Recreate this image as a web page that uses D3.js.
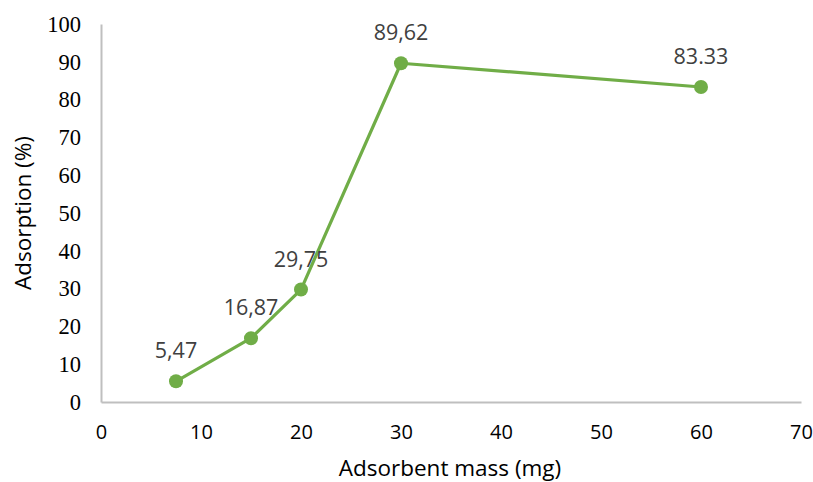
<!DOCTYPE html>
<html>
<head>
<meta charset="utf-8">
<script src="https://cdn.jsdelivr.net/npm/d3@7"></script>
<style>
  html, body { margin: 0; padding: 0; background: #fff; }
  svg { display: block; }
</style>
</head>
<body>
<svg id="chart" width="813" height="482"></svg>
<script>
// Adsorption vs. adsorbent mass
const massMg = [7.5, 15, 20, 30, 60];
const adsorption = [5.47, 16.87, 29.75, 89.62, 83.33];
const valueLabels = ["5,47", "16,87", "29,75", "89,62", "83.33"];
const xTicks = [0, 10, 20, 30, 40, 50, 60, 70];
const yTicks = [0, 10, 20, 30, 40, 50, 60, 70, 80, 90, 100];

const svg = d3.select("#chart");
const x = d3.scaleLinear().domain([0, 70]).range([101, 801]);
const y = d3.scaleLinear().domain([0, 100]).range([402, 24]);

const green = "#70AD47";
const axisGray = "#BFBFBF";
const sans = "'Open Sans', sans-serif";

// Y axis: line only, serif labels
const yAxis = d3.axisLeft(y).tickValues(yTicks).tickSize(0).tickPadding(20);
const gy = svg.append("g").attr("transform", `translate(${x(0)},0)`).call(yAxis);
gy.select(".domain").attr("stroke", axisGray).attr("stroke-width", 2);
gy.selectAll("text")
  .attr("font-family", "'Liberation Serif', 'Times New Roman', serif")
  .attr("font-size", 22.5)
  .attr("fill", "#000");

// X axis
const xAxis = d3.axisBottom(x).tickValues(xTicks).tickSize(0).tickPadding(23);
const gx = svg.append("g").attr("transform", `translate(0,${y(0)})`).call(xAxis);
gx.select(".domain").attr("stroke", axisGray).attr("stroke-width", 2);
gx.selectAll("text")
  .attr("font-family", sans)
  .attr("font-size", 20)
  .attr("fill", "#000");

// Axis titles
svg.append("text")
  .attr("x", 450).attr("y", 476)
  .attr("text-anchor", "middle")
  .attr("font-family", sans)
  .attr("font-size", 22.5)
  .attr("fill", "#000")
  .text("Adsorbent mass (mg)");

svg.append("text")
  .attr("transform", `translate(31,${213}) rotate(-90)`)
  .attr("text-anchor", "middle")
  .attr("font-family", sans)
  .attr("font-size", 22.5)
  .attr("fill", "#000")
  .text("Adsorption (%)");

const pts = massMg.map((m, i) => ({ m, v: adsorption[i], label: valueLabels[i] }));

// Line
svg.append("path")
  .datum(pts)
  .attr("fill", "none")
  .attr("stroke", green)
  .attr("stroke-width", 3.2)
  .attr("stroke-linejoin", "round")
  .attr("d", d3.line().x(d => x(d.m)).y(d => y(d.v)));

// Markers
svg.selectAll("circle.pt")
  .data(pts)
  .join("circle")
  .attr("class", "pt")
  .attr("cx", d => x(d.m))
  .attr("cy", d => y(d.v))
  .attr("r", 7)
  .attr("fill", green);

// Value labels
svg.selectAll("text.val")
  .data(pts)
  .join("text")
  .attr("class", "val")
  .attr("x", d => x(d.m))
  .attr("y", d => y(d.v) - 23)
  .attr("text-anchor", "middle")
  .attr("font-family", sans)
  .attr("font-size", 21.5)
  .attr("fill", "#404040")
  .text(d => d.label);
</script>
</body>
</html>
